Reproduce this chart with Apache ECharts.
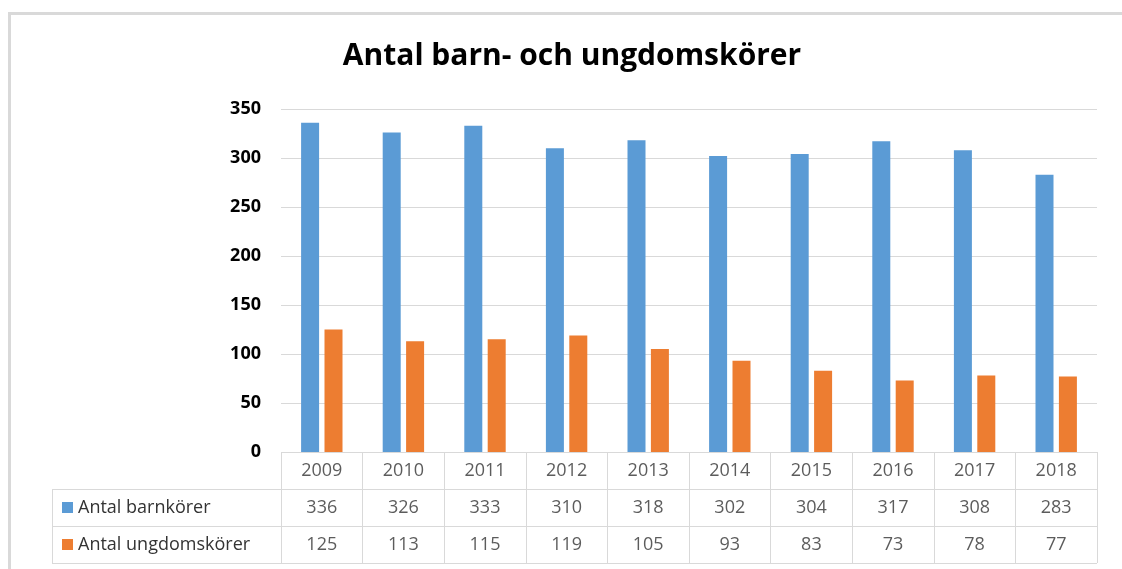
<!DOCTYPE html>
<meta charset="utf-8">
<html style="height: 100%">
<head>
    <title>Antal barn- och ungdomskörer</title>
    <script src="https://cdn.jsdelivr.net/npm/echarts@6/dist/echarts.min.js"></script>
</head>
<body style="height: 100%; margin: 0; background: #fff">

<div id="container" style="width: 1122px; height: 569px"></div>

<script type="text/javascript">

    // data
    let years = ['2009', '2010', '2011', '2012', '2013', '2014', '2015', '2016', '2017', '2018']
    let seriesNames = ['Antal barnkörer', 'Antal ungdomskörer']
    let barnkorer = [336, 326, 333, 310, 318, 302, 304, 317, 308, 283]
    let ungdomskorer = [125, 113, 115, 119, 105, 93, 83, 73, 78, 77]
    let yTicks = [0, 50, 100, 150, 200, 250, 300, 350]

    let colors = ['#5B9BD5', '#ED7D31']
    let lineColor = '#D9D9D9'
    let textColor = '#333333'
    let font = '"Open Sans", sans-serif'

    // cells of the data table: [column, row, text]
    let cells = []
    years.forEach(function (y, i) {
        cells.push([i, 0, y])
        cells.push([i, 1, barnkorer[i]])
        cells.push([i, 2, ungdomskorer[i]])
    })

    let dom = document.getElementById('container')
    let chart = echarts.init(dom)

    chart.setOption({
        animation: false,
        textStyle: {fontFamily: font},
        title: {
            text: 'Antal barn- och ungdomskörer',
            left: 567,
            top: 36,
            textAlign: 'center',
            textStyle: {fontFamily: font, fontSize: 30, fontWeight: 'bold', color: '#000'}
        },
        graphic: [{
            type: 'rect',
            shape: {x: 9.5, y: 13.5, width: 1200, height: 600},
            style: {fill: 'none', stroke: lineColor, lineWidth: 3},
            silent: true
        }],
        grid: [
            {left: 281, right: 25, top: 109, bottom: 117},   // bars
            {left: 281, right: 25, top: 452, height: 111},   // table values
            {left: 52, width: 229, top: 489, height: 74}     // table row names
        ],
        xAxis: [
            {
                gridIndex: 0, type: 'category', data: years,
                axisLine: {show: false}, axisTick: {show: false}, axisLabel: {show: false}
            },
            {
                gridIndex: 1, type: 'category', data: years,
                axisLine: {show: false}, axisTick: {show: false}, axisLabel: {show: false},
                splitLine: {show: true, interval: 0, lineStyle: {color: lineColor, width: 1}}
            },
            {
                gridIndex: 2, type: 'category', data: [''],
                axisLine: {show: false}, axisTick: {show: false}, axisLabel: {show: false},
                splitLine: {show: true, interval: 0, lineStyle: {color: lineColor, width: 1}}
            }
        ],
        yAxis: [
            {
                gridIndex: 0, type: 'value', min: yTicks[0], max: yTicks[yTicks.length - 1], interval: 50,
                axisLine: {show: false}, axisTick: {show: false},
                axisLabel: {margin: 20, fontSize: 18, fontWeight: 'bold', color: '#000', fontFamily: font},
                splitLine: {lineStyle: {color: lineColor, width: 1}}
            },
            {
                gridIndex: 1, type: 'category', data: ['', seriesNames[0], seriesNames[1]], inverse: true,
                axisLine: {show: false}, axisTick: {show: false}, axisLabel: {show: false},
                splitLine: {show: true, interval: 0, lineStyle: {color: lineColor, width: 1}}
            },
            {
                gridIndex: 2, type: 'category', data: seriesNames, inverse: true,
                axisLine: {show: false}, axisTick: {show: false},
                axisLabel: {
                    inside: true, margin: 10,
                    formatter: function (v, i) {
                        return (i === 0 ? '{a|}' : '{b|}') + '{t|' + v + '}'
                    },
                    rich: {
                        a: {backgroundColor: colors[0], width: 11, height: 11},
                        b: {backgroundColor: colors[1], width: 11, height: 11},
                        t: {fontSize: 18, color: textColor, fontFamily: font, padding: [0, 0, 0, 5]}
                    }
                },
                splitLine: {show: true, interval: 0, lineStyle: {color: lineColor, width: 1}}
            }
        ],
        series: [
            {
                name: seriesNames[0], type: 'bar', data: barnkorer,
                xAxisIndex: 0, yAxisIndex: 0,
                barWidth: 18, barGap: '30%',
                itemStyle: {color: colors[0]}
            },
            {
                name: seriesNames[1], type: 'bar', data: ungdomskorer,
                xAxisIndex: 0, yAxisIndex: 0,
                barWidth: 18, barGap: '30%',
                itemStyle: {color: colors[1]}
            },
            {
                type: 'scatter', data: cells,
                xAxisIndex: 1, yAxisIndex: 1,
                symbolSize: 0, silent: true,
                label: {
                    show: true, position: 'inside',
                    formatter: function (p) { return p.value[2] },
                    fontSize: 18, color: textColor, fontFamily: font
                }
            }
        ]
    }, true)

</script>

</body>
</html>
